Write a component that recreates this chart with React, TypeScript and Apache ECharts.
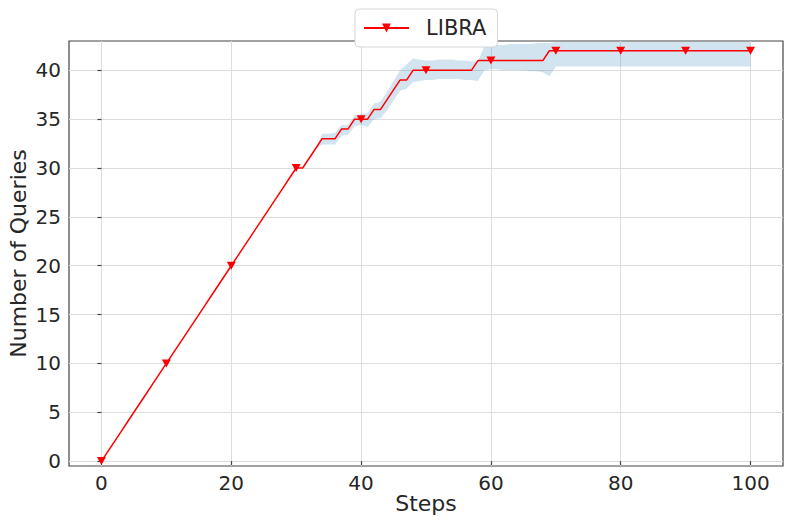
import React, { useEffect, useRef } from "react";
import * as echarts from "echarts";

const steps = [
  0, 1, 2, 3, 4, 5, 6, 7, 8, 9, 10, 11, 12, 13, 14, 15, 16, 17, 18, 19, 20,
  21, 22, 23, 24, 25, 26, 27, 28, 29, 30, 31, 32, 33, 34, 35, 36, 37, 38, 39, 40,
  41, 42, 43, 44, 45, 46, 47, 48, 49, 50, 51, 52, 53, 54, 55, 56, 57, 58, 59, 60,
  61, 62, 63, 64, 65, 66, 67, 68, 69, 70, 71, 72, 73, 74, 75, 76, 77, 78, 79, 80,
  81, 82, 83, 84, 85, 86, 87, 88, 89, 90, 91, 92, 93, 94, 95, 96, 97, 98, 99, 100,
];

const queries = [
  0, 1, 2, 3, 4, 5, 6, 7, 8, 9, 10, 11, 12, 13, 14, 15, 16, 17, 18, 19, 20,
  21, 22, 23, 24, 25, 26, 27, 28, 29, 30, 30, 31, 32, 33, 33, 33, 34, 34, 35, 35,
  35, 36, 36, 37, 38, 39, 39, 40, 40, 40, 40, 40, 40, 40, 40, 40, 40, 41, 41,
  41, 41, 41, 41, 41, 41, 41, 41, 41, 42, 42, 42, 42, 42, 42, 42, 42, 42, 42, 42,
  42, 42, 42, 42, 42, 42, 42, 42, 42, 42, 42, 42, 42, 42, 42, 42, 42, 42, 42, 42, 42,
];

const lower = [
  0, 1, 2, 3, 4, 5, 6, 7, 8, 9, 10, 11, 12, 13, 14, 15, 16, 17, 18, 19, 20,
  21, 22, 23, 24, 25, 26, 27, 28, 29, 30, 30, 31, 32, 32.4, 32.4, 32.4, 33.3, 33.4, 34.3, 34.4,
  34.2, 35.0, 35.1, 35.9, 36.9, 37.9, 38.1, 38.8, 38.9, 39.0, 39.0, 39.1, 39.1, 39.1, 39.1, 39.0, 39.0, 38.9, 40.0,
  40.1, 40.1, 40.0, 40.0, 40.0, 40.0, 39.9, 39.9, 39.8, 39.4, 40.4, 40.4, 40.4, 40.4, 40.4, 40.4, 40.4, 40.4, 40.4, 40.4,
  40.4, 40.4, 40.4, 40.4, 40.4, 40.4, 40.4, 40.4, 40.4, 40.4, 40.4, 40.4, 40.4, 40.4, 40.4, 40.4, 40.4, 40.4, 40.4, 40.4, 40.4,
];

const upper = [
  0, 1, 2, 3, 4, 5, 6, 7, 8, 9, 10, 11, 12, 13, 14, 15, 16, 17, 18, 19, 20,
  21, 22, 23, 24, 25, 26, 27, 28, 29, 30, 30, 31, 32, 33.5, 33.5, 33.6, 34.4, 34.4, 35.4, 35.5,
  35.6, 36.6, 36.8, 37.8, 38.9, 40.0, 40.6, 41.2, 41.1, 41.0, 41.0, 41.1, 41.1, 41.1, 41.0, 41.0, 40.9, 40.9, 42.5,
  42.6, 42.6, 42.6, 42.7, 42.7, 42.7, 42.7, 42.8, 42.8, 42.8, 42.9, 42.9, 42.9, 42.9, 42.9, 42.9, 42.9, 42.9, 42.9, 42.9,
  42.9, 42.9, 42.9, 42.9, 42.9, 42.9, 42.9, 42.9, 42.9, 42.9, 42.9, 42.9, 42.9, 42.9, 42.9, 42.9, 42.9, 42.9, 42.9, 42.9, 42.9,
];

const markerSteps = [0, 10, 20, 30, 40, 50, 60, 70, 80, 90, 100];
const xTicks = [0, 20, 40, 60, 80, 100];
const yTicks = [0, 5, 10, 15, 20, 25, 30, 35, 40];

const FONT = "DejaVu Sans";
const TEXT = "#262626";
const FRAME = "#444444";
const GRID = "#dddddd";

export default function App() {
  const ref = useRef<HTMLDivElement>(null);

  useEffect(() => {
    if (!ref.current) return;
    const chart = echarts.init(ref.current, undefined, { renderer: "svg" });

    const lineData = steps.map((s, i) => ({
      value: [s, queries[i]],
      symbol: markerSteps.includes(s) ? "triangle" : "none",
    }));

    chart.setOption({
      animation: false,
      backgroundColor: "#ffffff",
      textStyle: { fontFamily: FONT },
      grid: {
        left: 69,
        right: 10,
        top: 41,
        bottom: 63,
        containLabel: false,
        outerBoundsMode: "none",
        show: true,
        borderColor: FRAME,
        borderWidth: 1.2,
        backgroundColor: "transparent",
      },
      legend: {
        data: ["LIBRA"],
        left: 355,
        top: 9,
        padding: [8, 11, 8, 8],
        itemWidth: 45,
        itemHeight: 11,
        backgroundColor: "#ffffff",
        borderColor: "#d6d6d6",
        borderWidth: 1,
        borderRadius: 4,
        textStyle: {
          fontFamily: FONT,
          fontSize: 21,
          color: TEXT,
          lineHeight: 22,
          padding: [0, 0, 0, 12],
        },
        z: 10,
      },
      xAxis: {
        type: "value",
        min: -5,
        max: 105,
        minInterval: 20,
        maxInterval: 20,
        name: "Steps",
        nameLocation: "middle",
        nameGap: 26,
        nameMoveOverlap: false,
        nameTextStyle: { fontFamily: FONT, fontSize: 22, color: TEXT },
        axisLine: { show: false },
        axisTick: {
          show: true,
          length: 4,
          customValues: xTicks,
          lineStyle: { color: FRAME, width: 1.2 },
        },
        axisLabel: {
          customValues: xTicks,
          margin: 7,
          fontFamily: FONT,
          fontSize: 20,
          color: TEXT,
        },
        splitLine: { show: true, lineStyle: { color: GRID, width: 1 } },
      },
      yAxis: {
        type: "value",
        min: -0.5,
        max: 43,
        minInterval: 5,
        maxInterval: 5,
        name: "Number of Queries",
        nameLocation: "middle",
        nameGap: 40,
        nameMoveOverlap: false,
        nameTextStyle: { fontFamily: FONT, fontSize: 22, color: TEXT },
        axisLine: { show: false },
        axisTick: {
          show: true,
          length: 4,
          customValues: yTicks,
          lineStyle: { color: FRAME, width: 1.2 },
        },
        axisLabel: {
          customValues: yTicks,
          margin: 8,
          fontFamily: FONT,
          fontSize: 20,
          color: TEXT,
        },
        splitLine: { show: true, lineStyle: { color: GRID, width: 1 } },
      },
      series: [
        {
          name: "band",
          type: "custom",
          silent: true,
          clip: true,
          data: [[50, 40]],
          encode: { x: 0, y: 1 },
          renderItem: (_params: any, api: any) => {
            const pts: number[][] = [];
            for (let i = 0; i < steps.length; i++) {
              pts.push(api.coord([steps[i], upper[i]]));
            }
            for (let i = steps.length - 1; i >= 0; i--) {
              pts.push(api.coord([steps[i], lower[i]]));
            }
            return {
              type: "polygon",
              shape: { points: pts },
              style: { fill: "rgba(31,119,180,0.2)", stroke: "none" },
            };
          },
          z: 1,
        },
        {
          name: "LIBRA",
          type: "line",
          data: lineData,
          showSymbol: true,
          symbol: "triangle",
          symbolRotate: 180,
          symbolSize: [9, 8],
          color: "#ff0000",
          itemStyle: { color: "#ff0000" },
          lineStyle: { color: "#ff0000", width: 1.5 },
          z: 3,
        },
      ],
    });

    return () => chart.dispose();
  }, []);

  return (
    <div
      ref={ref}
      style={{ position: "fixed", left: 0, top: 0, width: 793, height: 529 }}
    />
  );
}
